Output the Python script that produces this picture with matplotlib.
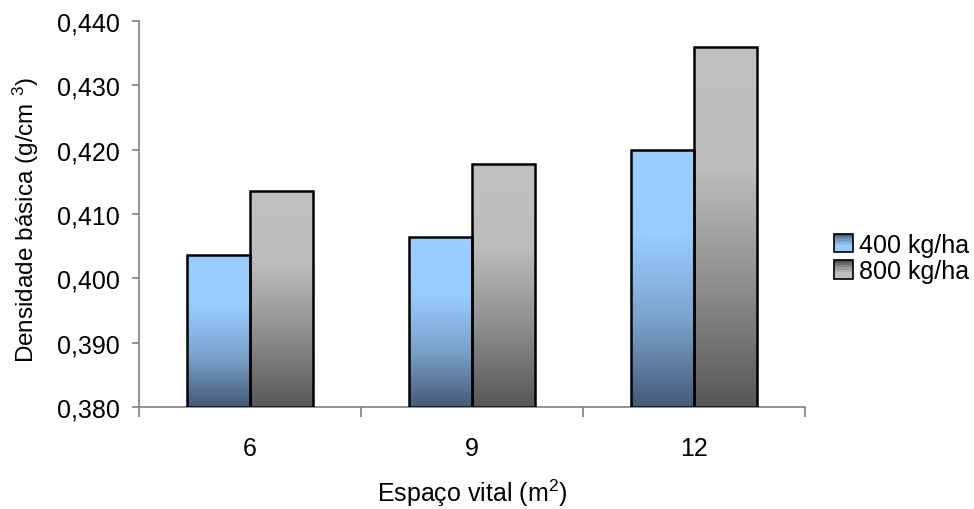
import numpy as np
import matplotlib.pyplot as plt
from matplotlib.patches import Rectangle
from matplotlib.legend_handler import HandlerBase
from matplotlib.colors import LinearSegmentedColormap
from matplotlib.ticker import FuncFormatter, FixedLocator

plt.rcParams['font.family'] = ['Liberation Sans', 'DejaVu Sans']
plt.rcParams['mathtext.fontset'] = 'custom'
plt.rcParams['mathtext.rm'] = 'Liberation Sans'
plt.rcParams['mathtext.it'] = 'Liberation Sans:italic'

# Basic density per living space and dose
spacing = ['6', '9', '12']
dens_400 = [0.4036, 0.4064, 0.4199]
dens_800 = [0.4135, 0.4177, 0.4360]
series_names = ['400 kg/ha', '800 kg/ha']
yticks = [0.380, 0.390, 0.400, 0.410, 0.420, 0.430, 0.440]

ymin, ymax = 0.380, 0.440

# gradients: light at top, dark at bottom
blue_cmap = LinearSegmentedColormap.from_list('blu', ['#455a78', '#7aa2cc', '#99ccff', '#99ccff'])
gray_cmap = LinearSegmentedColormap.from_list('gry', ['#575757', '#8e8e8e', '#bdbdbd', '#c0c0c0'])
cmaps = [blue_cmap, gray_cmap]

fig = plt.figure(figsize=(9.74, 5.10), dpi=100)
ax = fig.add_axes([139/974, 1 - 408/510, 666/974, 386/510])

x = np.arange(len(spacing))
w = 1 / 3.5
grad = np.linspace(1, 0, 256).reshape(-1, 1)

for k, vals in enumerate([dens_400, dens_800]):
    xs = x - w / 2 + k * w
    bars = ax.bar(xs, np.array(vals) - ymin, bottom=ymin, width=w,
                  facecolor='none', edgecolor='black', linewidth=1.8, zorder=3)
    for b in bars:
        x0, y0 = b.get_x(), b.get_y()
        im = ax.imshow(grad, extent=[x0, x0 + b.get_width(), y0, y0 + b.get_height()],
                       aspect='auto', cmap=cmaps[k], vmin=0, vmax=1, zorder=2)
        im.set_clip_path(b)

ax.set_xlim(-0.5, len(spacing) - 0.5)
ax.set_ylim(ymin, ymax)

ax.yaxis.set_major_locator(FixedLocator(yticks))
ax.yaxis.set_major_formatter(FuncFormatter(lambda v, p: f'{v:.3f}'.replace('.', ',')))
ax.set_xticks(x)
ax.set_xticklabels(spacing)
ax.set_xticks(np.arange(-0.5, len(spacing)), minor=True)

for s in ['top', 'right']:
    ax.spines[s].set_visible(False)
for s in ['left', 'bottom']:
    ax.spines[s].set_color('#808080')
    ax.spines[s].set_linewidth(1.2)

ax.tick_params(axis='y', which='major', direction='out', length=5, width=1.2,
               color='#808080', labelsize=18, pad=9)
ax.tick_params(axis='x', which='major', length=0, labelsize=18, pad=21)
ax.tick_params(axis='x', which='minor', direction='out', length=7, width=1.2,
               color='#808080')

ax.set_xlabel(r'Espaço vital (m$^{2}$)', fontsize=18, labelpad=12)
fig.text(26/974, 1 - 220/510, 'Densidade básica (g/cm $^{3}$)', rotation=90,
         ha='center', va='center', fontsize=17.5)


class GradientHandler(HandlerBase):
    def __init__(self, cmap):
        super().__init__()
        self.cmap = cmap

    def create_artists(self, legend, orig_handle, xdescent, ydescent, width,
                       height, fontsize, trans):
        n = 8
        side = height * 1.0
        x0 = -xdescent + (width - side) / 2
        y0 = -ydescent + (height - side) / 2
        arts = []
        for i in range(n):
            c = self.cmap(i / (n - 1))
            arts.append(Rectangle((x0, y0 + side * i / n), side, side / n,
                                  facecolor=c, edgecolor='none', transform=trans))
        arts.append(Rectangle((x0, y0), side, side, facecolor='none',
                              edgecolor='black', linewidth=1.2, transform=trans))
        return arts


h1 = Rectangle((0, 0), 1, 1)
h2 = Rectangle((0, 0), 1, 1)
fig.legend([h1, h2], series_names, loc='center left',
           bbox_to_anchor=(834/974, 1 - 259/510), frameon=False, fontsize=18,
           borderpad=0, borderaxespad=0,
           handlelength=0.75, handleheight=0.75, handletextpad=0.25, labelspacing=0.1,
           handler_map={h1: GradientHandler(blue_cmap.reversed()),
                        h2: GradientHandler(gray_cmap.reversed())})

fig.savefig('out.png', dpi=100)
